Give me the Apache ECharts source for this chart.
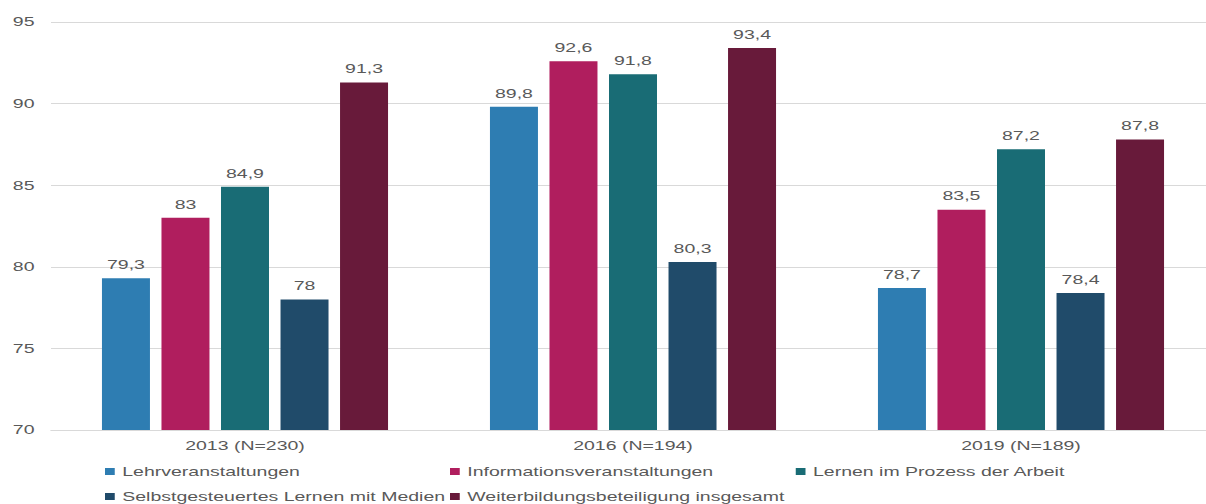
<!DOCTYPE html>
<html>
<head>
<meta charset="utf-8">
<script src="https://cdn.jsdelivr.net/npm/echarts@6/dist/echarts.min.js"></script>
<style>
  html, body { margin: 0; padding: 0; background: #fff; overflow: hidden; }
  /* the chart is laid out narrow and widened horizontally, giving the wide lettering */
  #chart { width: 820px; height: 504px; transform: scaleX(1.5); transform-origin: 0 0; }
</style>
</head>
<body>
<div id="chart"></div>
<script>
const categories = ['2013 (N=230)', '2016 (N=194)', '2019 (N=189)'];
const seriesNames = [
  'Lehrveranstaltungen',
  'Informationsveranstaltungen',
  'Lernen im Prozess der Arbeit',
  'Selbstgesteuertes Lernen mit Medien',
  'Weiterbildungsbeteiligung insgesamt'
];
const lehrveranstaltungen = [79.3, 89.8, 78.7];
const informationsveranstaltungen = [83, 92.6, 83.5];
const lernenProzessArbeit = [84.9, 91.8, 87.2];
const selbstgesteuertesLernen = [78, 80.3, 78.4];
const weiterbildungInsgesamt = [91.3, 93.4, 87.8];
const seriesValues = [
  lehrveranstaltungen,
  informationsveranstaltungen,
  lernenProzessArbeit,
  selbstgesteuertesLernen,
  weiterbildungInsgesamt
];
const colors = ['#2E7DB2', '#B01E5E', '#196C75', '#204B6A', '#681A3A'];

const textColor = '#595959';
const font = 'Liberation Sans, Arial, sans-serif';

// legend laid out as a two-row grid of fixed columns
const legendSlots = [
  { left: 70, top: 465 },
  { left: 300, top: 465 },
  { left: 530.5, top: 465 },
  { left: 70, top: 490 },
  { left: 300, top: 490 }
];

const chart = echarts.init(document.getElementById('chart'), null, { renderer: 'svg' });

chart.setOption({
  animation: false,
  color: colors,
  grid: { left: 34, width: 776, top: 22, height: 408, containLabel: false },
  legend: seriesNames.map((name, i) => ({
    data: [name],
    left: legendSlots[i].left,
    top: legendSlots[i].top,
    padding: 0,
    icon: 'rect',
    itemWidth: 6.5,
    itemHeight: 7,
    selectedMode: false,
    textStyle: { color: textColor, fontSize: 13, fontFamily: font }
  })),
  xAxis: {
    type: 'category',
    data: categories,
    axisLine: { lineStyle: { color: '#D9D9D9', width: 1 } },
    axisTick: { show: false },
    axisLabel: { color: textColor, fontSize: 13, fontFamily: font, margin: 9 }
  },
  yAxis: {
    type: 'value',
    min: 70,
    max: 95,
    interval: 5,
    axisLine: { show: false },
    axisTick: { show: false },
    splitLine: { lineStyle: { color: '#D9D9D9', width: 1 } },
    axisLabel: { color: textColor, fontSize: 13, fontFamily: font, margin: 11 }
  },
  series: seriesNames.map((name, i) => ({
    name: name,
    type: 'bar',
    data: seriesValues[i],
    barWidth: 32,
    barGap: '24%',
    itemStyle: { color: colors[i] },
    label: {
      show: true,
      position: 'top',
      distance: 7,
      color: textColor,
      fontSize: 13,
      fontFamily: font,
      formatter: p => String(p.value).replace('.', ',')
    }
  }))
});
</script>
</body>
</html>
